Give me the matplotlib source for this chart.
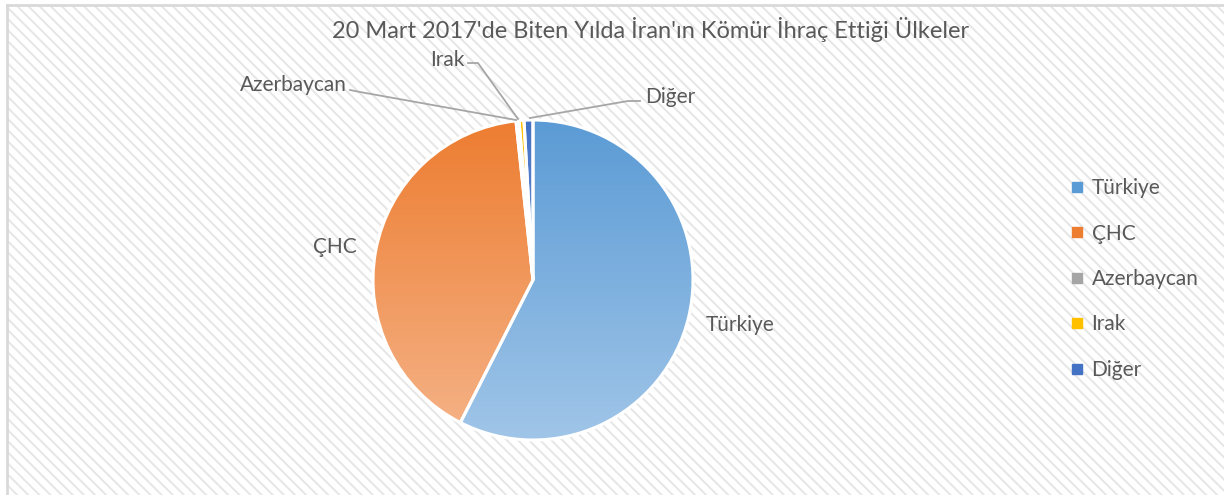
import matplotlib.pyplot as plt
import numpy as np
from matplotlib.lines import Line2D
from matplotlib.patches import Rectangle
from matplotlib.colors import LinearSegmentedColormap

# data
countries = ["Türkiye", "ÇHC", "Azerbaycan", "Irak", "Diğer"]
shares = [57.5, 40.8, 0.3, 0.5, 0.9]
colors = ["#5b9bd5", "#ed7d31", "#a5a5a5", "#ffc000", "#4472c4"]
light_colors = ["#a0c5e8", "#f5b388", "#cfcfcf", "#ffdc7a", "#8eaadc"]
title = "20 Mart 2017'de Biten Yılda İran'ın Kömür İhraç Ettiği Ülkeler"

W, H = 1224, 495
plt.rcParams['font.family'] = ['Lato', 'DejaVu Sans']
plt.rcParams['hatch.linewidth'] = 1.4
plt.rcParams['hatch.color'] = '#e6e6e6'
text_color = '#595959'

fig = plt.figure(figsize=(W / 100, H / 100), dpi=100)
fig.patch.set_facecolor('white')

# hatched background with thin border
bg = Rectangle((7 / W, 0), 1 - 7 / W, 1 - 5 / H, transform=fig.transFigure,
               facecolor='white', edgecolor='#e6e6e6', hatch='\\\\\\', linewidth=0, zorder=-5)
fig.patches.append(bg)
fig.add_artist(Line2D([7 / W, 7 / W], [0, 1 - 5 / H], transform=fig.transFigure,
                      color='#d9d9d9', lw=2, zorder=-4))
fig.add_artist(Line2D([7 / W, 1], [1 - 5 / H, 1 - 5 / H], transform=fig.transFigure,
                      color='#d9d9d9', lw=2, zorder=-4))

# pie axes: centre (533, 280) px, radius 160 px
cx, cy, R, half = 533, 280, 160, 250
ax = fig.add_axes([(cx - half) / W, (H - cy - half) / H, 2 * half / W, 2 * half / H])
ax.axis('off')
ax.patch.set_alpha(0)

wedges, _ = ax.pie(shares, colors=colors, startangle=90, counterclock=False,
                   wedgeprops=dict(edgecolor='white', linewidth=2.2))

# vertical gradient fill clipped to each wedge
grad = np.linspace(0, 1, 256).reshape(-1, 1)
for w, c0, c1 in zip(wedges, colors, light_colors):
    cmap = LinearSegmentedColormap.from_list('g', [c0, c1])
    im = ax.imshow(grad, cmap=cmap, extent=[-1, 1, -1, 1], origin='upper',
                   aspect='auto', zorder=1)
    im.set_clip_path(w)
    w.set_facecolor('none')
    w.set_zorder(2)
ax.set_xlim(-half / R, half / R)
ax.set_ylim(-half / R, half / R)


def to_data(px, py):
    return (px - cx) / R, (cy - py) / R


# labels
fs = 15
x, y = to_data(706, 325)
ax.text(x, y, "Türkiye", ha='left', va='center', fontsize=fs, color=text_color)
x, y = to_data(357, 247)
ax.text(x, y, "ÇHC", ha='right', va='center', fontsize=fs, color=text_color)
x, y = to_data(347, 85)
ax.text(x, y, "Azerbaycan", ha='right', va='center', fontsize=fs, color=text_color)
x, y = to_data(465, 60)
ax.text(x, y, "Irak", ha='right', va='center', fontsize=fs, color=text_color)
x, y = to_data(645, 97)
ax.text(x, y, "Diğer", ha='left', va='center', fontsize=fs, color=text_color)

# leader lines for small slices
leaders = [
    [(350, 90), (360, 92), (516, 120)],
    [(468, 63), (478, 63), (518, 119)],
    [(640, 101), (628, 101), (530, 118)],
]
for pts in leaders:
    xs, ys = zip(*[to_data(px, py) for px, py in pts])
    ax.plot(xs, ys, color='#a6a6a6', lw=1.3, zorder=3)

# title
fig.text(651 / W, 1 - 30 / H, title, ha='center', va='center', fontsize=17, color=text_color)

# legend
handles = [Line2D([], [], marker='s', linestyle='', markersize=6.5, color=c) for c in colors]
leg = fig.legend(handles, countries, loc='center left', bbox_to_anchor=(1053 / W, 1 - 279 / H),
                 frameon=False, fontsize=fs, labelcolor=text_color, handlelength=0.5,
                 handletextpad=0.45, labelspacing=1.22)

fig.savefig('out.png', dpi=100)
